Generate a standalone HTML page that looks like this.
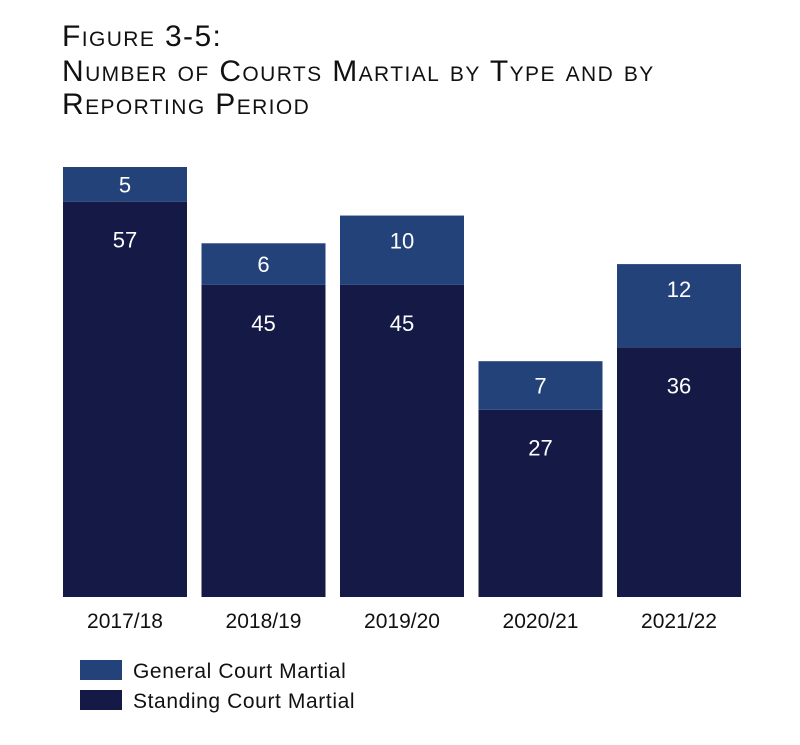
<!DOCTYPE html>
<html><head><meta charset="utf-8"><style>
body{margin:0;background:#fff;width:800px;height:740px;overflow:hidden;font-family:"Liberation Sans",sans-serif}
</style></head><body>
<svg width="800" height="740">
<g fill="#111" font-family="Liberation Sans, sans-serif" font-size="30" letter-spacing="1.4" style="font-variant:small-caps">
<text x="62" y="46">Figure 3-5:</text>
<text x="62" y="81">Number of Courts Martial by Type and by</text>
<text x="62" y="114">Reporting Period</text>
</g>
<g id="bars"></g>
<g font-size="21" fill="#111" letter-spacing="0.6">
<rect x="80" y="660" width="42" height="20" fill="#23427a"/>
<text x="133" y="678">General Court Martial</text>
<rect x="80" y="690" width="42" height="20" fill="#141a45"/>
<text x="133" y="708">Standing Court Martial</text>
</g>
</svg>
<script>
const categories=["2017/18","2018/19","2019/20","2020/21","2021/22"];
const standing=[57,45,45,27,36];
const general=[5,6,10,7,12];
const NS="http://www.w3.org/2000/svg";
const g=document.getElementById('bars');
const base=597,scale=430/62,x0=63,step=138.5,bw=124;
const y=v=>base-v*scale;
function mk(t,a){const e=document.createElementNS(NS,t);for(const k in a)e.setAttribute(k,a[k]);g.appendChild(e);return e;}
categories.forEach((c,i)=>{
 const x=x0+i*step;
 const ts=y(standing[i]),tg=y(standing[i]+general[i]);
 let r=mk('rect',{x:x,y:ts,width:bw,height:base-ts,fill:'#141a45'});
 
 
 r=mk('rect',{x:x,y:tg,width:bw,height:ts-tg,fill:'#23427a'});
 
 
 let t=mk('text',{x:x+bw/2,y:ts+38+8,'text-anchor':'middle',fill:'#fff','font-size':'22'});
 t.textContent=standing[i];
 
 
 const gy=Math.min((tg+ts)/2,tg+25);
 t=mk('text',{x:x+bw/2,y:gy+8,'text-anchor':'middle',fill:'#fff','font-size':'22'});
 t.textContent=general[i];
 
 
 t=mk('text',{x:x+bw/2,y:628,'text-anchor':'middle',fill:'#111','font-size':'21'});
 t.textContent=c;
 
 
});
</script>
</body></html>
